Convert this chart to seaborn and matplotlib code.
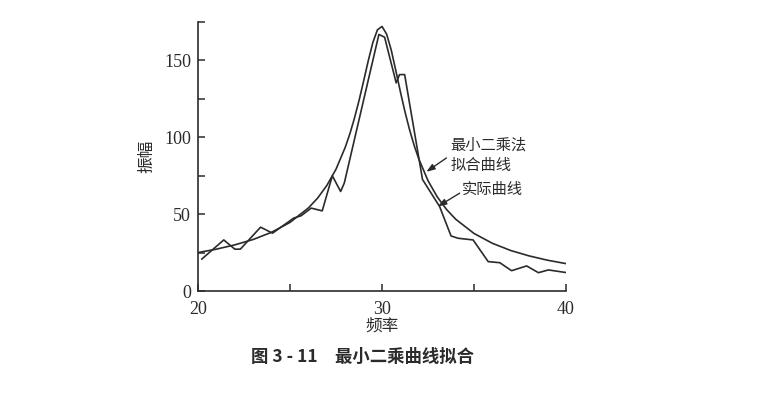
import numpy as np
import pandas as pd
import matplotlib
matplotlib.use("Agg")
import matplotlib.pyplot as plt
import seaborn as sns

act_freq = [20.2, 21.4, 22.0, 22.3, 23.4, 24.05, 24.6, 25.2, 25.6, 26.15, 26.75,
            27.3, 27.75, 27.95, 29.83, 30.14, 30.77, 30.95, 31.23, 32.2, 33.13,
            33.75, 34.13, 34.95, 35.77, 36.4, 37.04, 37.86, 38.5, 39.04, 40.0]
act_amp = [20.7, 33.2, 27.2, 27.2, 41.5, 37.6, 42.3, 47.4, 48.9, 53.9, 52.1,
           74.9, 64.7, 70.2, 166.8, 165.0, 135.3, 140.7, 140.7, 72.5, 54.9,
           35.8, 34.3, 33.2, 19.1, 18.4, 13.2, 16.3, 11.9, 13.7, 12.0]

# least-squares fitted curve
fit_freq = [20, 21, 22, 23, 24, 25, 26, 26.5, 27, 27.5, 28, 28.25, 28.5, 28.75,
            29, 29.25, 29.5, 29.75, 30, 30.25, 30.5, 30.75, 31, 31.25, 31.5,
            31.75, 32, 32.5, 33, 33.5, 34, 35, 36, 37, 38, 39, 40]
fit_amp = [25.0, 27.2, 30.0, 33.5, 38.2, 44.6, 54.0, 60.4, 68.6, 79.2, 93.4,
           102.1, 112.3, 123.8, 136.5, 149.6, 161.5, 169.8, 172.0, 167.0,
           156.7, 143.3, 129.4, 116.4, 104.7, 94.5, 85.8, 71.7, 61.2, 53.1,
           46.7, 37.4, 31.0, 26.3, 22.8, 20.0, 17.8]

x_ticks = [20, 25, 30, 35, 40]
x_labels = ["20", "", "30", "", "40"]
y_ticks = [0, 25, 50, 75, 100, 125, 150, 175]
y_labels = ["0", "", "50", "", "100", "", "150", ""]

sns.set_style("ticks")
plt.rcParams["font.family"] = ["Noto Sans CJK SC", "DejaVu Sans"]

ink = "#2b2b2b"
fig = plt.figure(figsize=(7.61, 3.97), dpi=100)
ax = fig.add_axes([0.2602, 0.267, 0.4836, 0.678])

df_act = pd.DataFrame({"freq": act_freq, "amp": act_amp})
df_fit = pd.DataFrame({"freq": fit_freq, "amp": fit_amp})
sns.lineplot(data=df_fit, x="freq", y="amp", ax=ax, color=ink, lw=1.2, sort=False)
sns.lineplot(data=df_act, x="freq", y="amp", ax=ax, color=ink, lw=1.2, sort=False)

ax.set_xlim(20, 40)
ax.set_ylim(0, 175)
ax.set_xticks(x_ticks)
ax.set_xticklabels(x_labels)
ax.set_yticks(y_ticks)
ax.set_yticklabels(y_labels)
for lab in ax.get_xticklabels() + ax.get_yticklabels():
    lab.set_family("Liberation Serif")
    lab.set_fontsize(13)
    lab.set_color(ink)
ax.tick_params(direction="in", length=5, width=1.1, color=ink)
ax.tick_params(axis="x", pad=7)
ax.tick_params(axis="y", pad=5)
sns.despine(ax=ax)
for s in ["left", "bottom"]:
    ax.spines[s].set_linewidth(1.2)
    ax.spines[s].set_color(ink)

ax.set_xlabel("频率", fontsize=12, color=ink, labelpad=0)
ax.set_ylabel("振幅", fontsize=12, color=ink, labelpad=6)

# annotations
ax.text(33.7, 88, "最小二乘法\n拟合曲线", fontsize=11, color=ink,
        ha="left", va="center", linespacing=1.25)
ax.annotate("", xy=(32.41, 77.5), xytext=(33.5, 86.5),
            arrowprops=dict(arrowstyle="-|>,head_length=0.5,head_width=0.18",
                            color=ink, lw=1.0, shrinkA=0, shrinkB=0))
ax.text(34.35, 65.8, "实际曲线", fontsize=11, color=ink, ha="left", va="center")
ax.annotate("", xy=(33.04, 55.0), xytext=(34.22, 63.6),
            arrowprops=dict(arrowstyle="-|>,head_length=0.5,head_width=0.18",
                            color=ink, lw=1.0, shrinkA=0, shrinkB=0))

fig.text(0.4757, 0.1, "图 3 - 11　最小二乘曲线拟合", fontsize=12.5, fontweight="bold",
         color=ink, ha="center", va="center")

fig.savefig("out.png", dpi=100, facecolor="white")
